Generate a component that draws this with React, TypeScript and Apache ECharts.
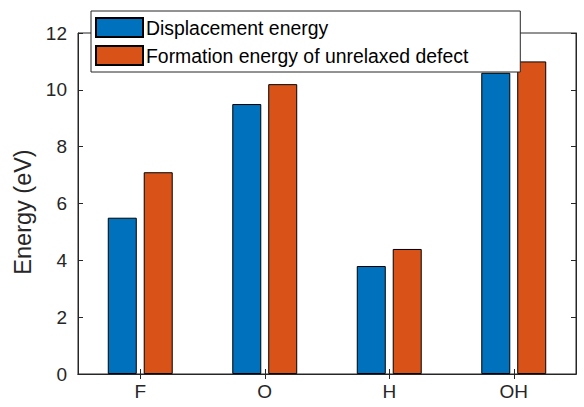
import React, { useEffect, useRef } from "react";
import * as echarts from "echarts";

const categories = ["F", "O", "H", "OH"];
const displacementEnergy = [5.5, 9.5, 3.8, 10.6];
const formationEnergy = [7.1, 10.2, 4.4, 11.0];
const seriesNames = ["Displacement energy", "Formation energy of unrelaxed defect"];
const yTicks = { min: 0, max: 12, interval: 2 };

const FONT = "'Liberation Sans', Arial, Helvetica, sans-serif";
const AX = "#262626";

export default function App() {
  const ref = useRef<HTMLDivElement>(null);
  useEffect(() => {
    if (!ref.current) return;
    const chart = echarts.init(ref.current, undefined, { renderer: "svg" });
    chart.setOption({
      animation: false,
      textStyle: { fontFamily: FONT },
      grid: {
        left: 78,
        right: 8,
        top: 33,
        bottom: 33,
        show: true,
        borderColor: AX,
        borderWidth: 1,
        backgroundColor: "transparent",
      },
      legend: {
        orient: "vertical",
        left: 91,
        top: 11,
        icon: "rect",
        itemWidth: 47,
        itemHeight: 19,
        itemGap: 7,
        padding: [6, 52, 6, 4],
        backgroundColor: "#ffffff",
        borderColor: AX,
        borderWidth: 1,
        borderRadius: 0,
        z: 10,
        textStyle: { fontSize: 19.4, color: "#000000", fontFamily: FONT, padding: [0, 0, 0, -2] },
        data: seriesNames,
      },
      xAxis: [
        {
          type: "category",
          data: categories,
          position: "bottom",
          axisLine: { show: true, lineStyle: { color: AX, width: 1 } },
          axisTick: { show: true, inside: true, alignWithLabel: true, length: 5, lineStyle: { color: AX } },
          axisLabel: { fontSize: 19, color: AX, margin: 8, fontFamily: FONT },
          splitLine: { show: false },
        },
        {
          type: "category",
          data: categories,
          position: "top",
          axisLine: { show: true, lineStyle: { color: AX, width: 1 } },
          axisTick: { show: true, inside: true, alignWithLabel: true, length: 5, lineStyle: { color: AX } },
          axisLabel: { show: false },
          splitLine: { show: false },
        },
      ],
      yAxis: [
        {
          type: "value",
          min: yTicks.min,
          max: yTicks.max,
          interval: yTicks.interval,
          name: "Energy (eV)",
          nameLocation: "middle",
          nameGap: 43,
          nameTextStyle: { fontSize: 23.5, color: AX, fontFamily: FONT, padding: [0, 17, 0, 0] },
          axisLine: { show: true, lineStyle: { color: AX, width: 1 } },
          axisTick: { show: true, inside: true, length: 5, lineStyle: { color: AX } },
          axisLabel: { fontSize: 19, color: AX, margin: 11, fontFamily: FONT },
          splitLine: { show: false },
        },
        {
          type: "value",
          position: "right",
          min: yTicks.min,
          max: yTicks.max,
          interval: yTicks.interval,
          axisLine: { show: true, lineStyle: { color: AX, width: 1 } },
          axisTick: { show: true, inside: true, length: 5, lineStyle: { color: AX } },
          axisLabel: { show: false },
          splitLine: { show: false },
        },
      ],
      series: [
        {
          name: seriesNames[0],
          type: "bar",
          data: displacementEnergy,
          barWidth: 29,
          barGap: "24%",
          itemStyle: { color: "#0072BD", borderColor: "#000000", borderWidth: 1 },
        },
        {
          name: seriesNames[1],
          type: "bar",
          data: formationEnergy,
          barWidth: 29,
          barGap: "24%",
          itemStyle: { color: "#D95319", borderColor: "#000000", borderWidth: 1 },
        },
      ],
    });
    return () => chart.dispose();
  }, []);
  return (
    <div
      ref={ref}
      style={{ position: "fixed", left: 0, top: 0, width: 584, height: 407, background: "#ffffff" }}
    />
  );
}
